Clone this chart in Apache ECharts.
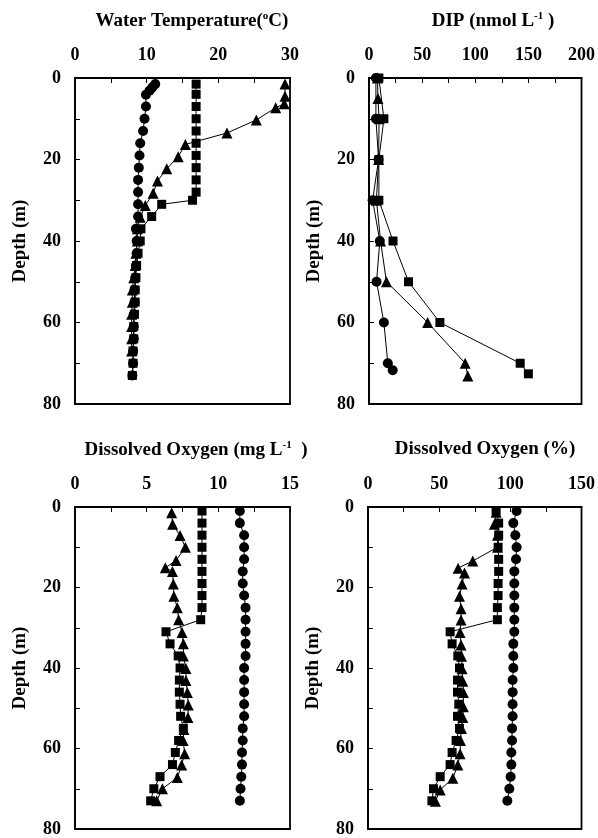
<!DOCTYPE html>
<html>
<head>
<meta charset="UTF-8">
<title>depth profiles</title>
<script src="https://cdn.jsdelivr.net/npm/echarts@6/dist/echarts.min.js"></script>
<style>
  html, body { margin: 0; padding: 0; background: #fff; }
  #main { width: 598px; height: 838px; }
</style>
</head>
<body>
<div id="main"></div>
<script>
// standard CTD depths (m)
var stdDepth = [1,4,7,10,13,16,19,22,25,28,31,34,37,40,43,46,49,52,55,58,61,64,67,70,73];

// Water temperature (C)
var tempCircDepth = [1.5,2.3,3.1,4.1,7,10,13,16,19,22,25,28,31,34,37,40,43,46,49,52,55,58,61,64,67,70,73];
var tempCirc = [11.2,10.8,10.4,9.9,9.9,9.7,9.5,9.1,9.0,8.9,8.8,8.8,8.8,8.8,8.5,8.6,8.6,8.5,8.4,8.3,8.3,8.2,8.2,8.2,8.1,8.1,8.0];
var tempSqDepth = [1.5,4,7,10,13,16,19,22,25,28,30,31,34,37,40,43,46,49,52,55,58,61,64,67,70,73];
var tempSq = [16.9,16.9,16.9,16.9,16.9,16.9,16.9,16.9,16.9,16.9,16.4,12.1,10.7,9.2,9.1,8.8,8.6,8.5,8.4,8.4,8.3,8.2,8.2,8.1,8.1,8.0];
var tempTriDepth = [1.5,4.5,6.3,7.3,10.3,13.5,16.3,19.3,22.3,25.3,28.3,31.3,34.2,37,40,43,46,49,52,55,58,61,64,67];
var tempTri = [29.3,29.3,29.2,28.0,25.3,21.2,15.4,14.4,12.8,11.5,10.9,9.8,9.1,8.7,8.7,8.5,8.4,8.2,8.0,8.0,7.9,7.9,7.9,7.9];

// DIP (nmol/L)
var dipCircDepth = [0,10,20,30,40,50,60,70,71.7];
var dipCirc = [6.5,6.5,9,3.4,10.2,7.1,14,17.7,22.3];
var dipSqDepth = [0,10,20,30,40,50,60,70,72.6];
var dipSq = [9.3,14,9.3,9.3,22.6,37.2,66.7,142.3,150];
var dipTriDepth = [0,5,10,20,30,40,50,60,70,73.1];
var dipTri = [8,8.4,9.5,9,7,10.9,16.4,55.2,90.5,93];

// Dissolved oxygen (mg/L)
var doCirc = [11.5,11.5,11.8,11.8,11.8,11.7,11.7,11.8,11.9,11.9,11.9,11.9,11.9,11.8,11.8,11.8,11.8,11.8,11.7,11.7,11.65,11.65,11.6,11.55,11.5];
var doSq = [8.86,8.86,8.86,8.86,8.86,8.86,8.86,8.86,8.86,8.77,6.35,6.63,7.2,7.33,7.28,7.28,7.33,7.37,7.56,7.23,7.0,6.8,5.93,5.5,5.28];
var doTriDepth = [1.4,4.3,7.1,10,13.3,15.1,16,19.1,22.2,25,28,31.2,34,37,40.1,43.1,46.1,49.2,52.3,55.3,58,61.3,64.1,67.2,70,73];
var doTri = [6.74,6.81,7.33,7.7,7.05,6.3,6.8,6.86,6.9,7.14,7.23,7.47,7.56,7.56,7.74,7.74,7.84,7.9,7.88,7.6,7.55,7.65,7.44,7.14,6.1,5.7];

// Dissolved oxygen (%)
var satCirc = [104.4,102.1,103.5,104.4,104,102.8,102.8,102.8,102.8,102.8,102.8,102.1,102.1,102.1,101.6,101.6,101.6,101.6,101.2,101.2,100.7,100.7,100.2,99.3,97.9];
var satSq = [90,91.8,91.8,91.4,91.8,91.8,91.4,91.4,90.9,90.9,57.7,59.1,63.1,64.3,62.9,62.9,63.8,62.9,64.3,61.9,59.1,57.7,50.7,46,44.9];
var satTriDepth = [1.3,4.3,7,10,13.4,15.2,16.4,19.1,22.2,25.3,28.1,31.2,34.3,37.1,40.2,43.3,46.1,49.6,52.3,55,58,61.3,64.1,67.4,70.3,73.1];
var satTri = [90,88.8,91,91,73.6,63.3,67.8,66.1,64.3,65.4,65.4,64.7,65.4,65.7,66.1,66.6,67,67,66.6,65.7,65,64.7,63.1,59.6,50.7,47.4];

// axes: max, tick step, label step
var xMax = [30, 200, 15, 150];
var xTick = [5, 25, 2.5, 25];
var xLab = [10, 50, 5, 50];

var FONT = '"Times New Roman", "Liberation Serif", serif';

function zip(vals, depths) {
  return vals.map(function (v, i) { return [v, depths[i]]; });
}

var grids = [
  {left: 75, top: 78, width: 215, height: 326},
  {left: 369, top: 78, width: 215, height: 326},
  {left: 75, top: 507, width: 215, height: 326},
  {left: 368, top: 507, width: 214, height: 326}
];

var xAxes = [], yAxes = [];
for (var i = 0; i < 4; i++) {
  grids[i].show = true;
  grids[i].borderColor = '#000';
  grids[i].borderWidth = 1.8;
  (function (i) {
    xAxes.push({
      gridIndex: i, type: 'value', position: 'top', min: 0, max: xMax[i], interval: xTick[i],
      axisLine: {show: true, onZero: false, lineStyle: {color: '#000', width: 1.8}},
      axisTick: {show: true, inside: true, length: 5, lineStyle: {color: '#000', width: 1}},
      axisLabel: {
        color: '#000', fontSize: 18, fontWeight: 'bold', fontFamily: FONT, margin: 14,
        formatter: function (v) { return Math.abs(v % xLab[i]) < 1e-6 ? String(v) : ''; }
      },
      splitLine: {show: false}
    });
  })(i);
  yAxes.push({
    gridIndex: i, type: 'value', inverse: true, min: 0, max: 80, interval: 10,
    name: 'Depth (m)', nameLocation: 'middle', nameRotate: 90, nameGap: 45,
    nameTextStyle: {color: '#000', fontSize: 19, fontWeight: 'bold', fontFamily: FONT},
    axisLine: {show: true, onZero: false, lineStyle: {color: '#000', width: 1.8}},
    axisTick: {show: true, inside: true, length: 5, lineStyle: {color: '#000', width: 1}},
    axisLabel: {
      color: '#000', fontSize: 18, fontWeight: 'bold', fontFamily: FONT, margin: 14,
      formatter: function (v) { return v % 20 === 0 ? String(v) : ''; }
    },
    splitLine: {show: false}
  });
}

function line(idx, data, symbol, size) {
  return {
    type: 'line', xAxisIndex: idx, yAxisIndex: idx, data: data,
    symbol: symbol, symbolSize: size, showSymbol: true,
    lineStyle: {color: '#000', width: 1},
    itemStyle: {color: '#000', borderWidth: 0},
    animation: false, clip: false
  };
}

var titleRich = {
  t: {fontSize: 19, fontWeight: 'bold', fontFamily: FONT, color: '#000'},
  s: {fontSize: 11, fontWeight: 'bold', fontFamily: FONT, color: '#000', padding: [0, 0, 9, 0]}
};

function ttl(text, x, y) {
  return {
    text: text, left: x, top: y, textAlign: 'center', padding: 0,
    textStyle: {rich: titleRich}
  };
}

var option = {
  backgroundColor: '#fff',
  animation: false,
  title: [
    ttl('{t|Water Temperature(}{s|o}{t|C)}', 192, 11),
    ttl('{t|DIP (nmol L}{s|-1}{t| )}', 493, 11),
    ttl('{t|Dissolved Oxygen (mg L}{s|-1}{t|  )}', 196, 440),
    ttl('{t|Dissolved Oxygen (%)}', 485, 440)
  ],
  grid: grids,
  xAxis: xAxes,
  yAxis: yAxes,
  series: [
    line(0, zip(tempCirc, tempCircDepth), 'circle', 10),
    line(0, zip(tempSq, tempSqDepth), 'rect', 9),
    line(0, zip(tempTri, tempTriDepth), 'triangle', 11),
    line(1, zip(dipCirc, dipCircDepth), 'circle', 10),
    line(1, zip(dipSq, dipSqDepth), 'rect', 9),
    line(1, zip(dipTri, dipTriDepth), 'triangle', 11),
    line(2, zip(doCirc, stdDepth), 'circle', 10),
    line(2, zip(doSq, stdDepth), 'rect', 9),
    line(2, zip(doTri, doTriDepth), 'triangle', 11),
    line(3, zip(satCirc, stdDepth), 'circle', 10),
    line(3, zip(satSq, stdDepth), 'rect', 9),
    line(3, zip(satTri, satTriDepth), 'triangle', 11)
  ]
};

var myChart = echarts.init(document.getElementById('main'));
myChart.setOption(option);
</script>
</body>
</html>
